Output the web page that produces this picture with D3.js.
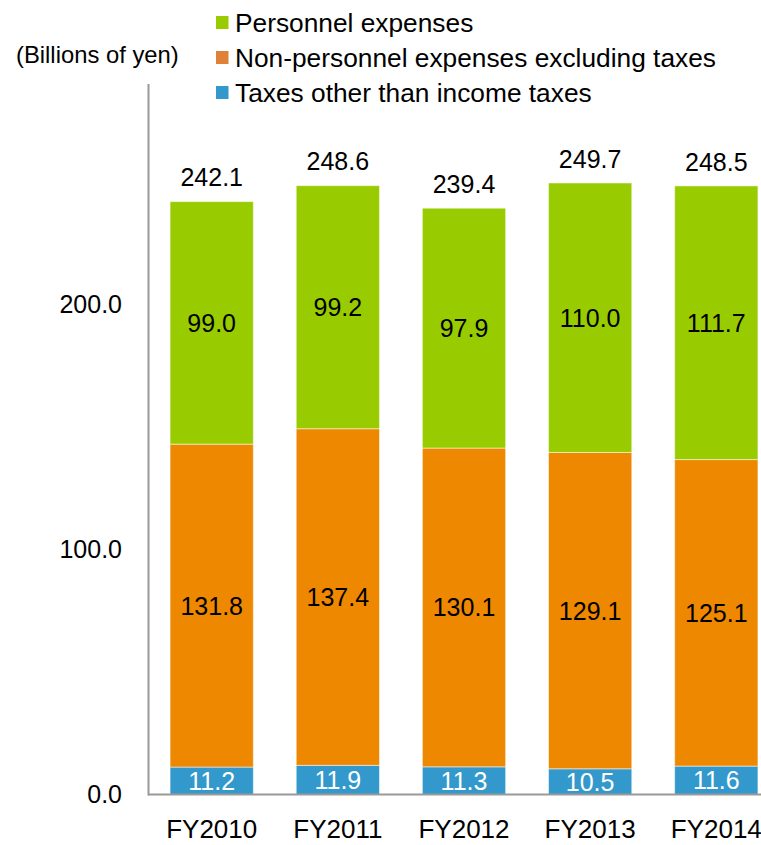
<!DOCTYPE html>
<html><head><meta charset="utf-8">
<script src="https://cdn.jsdelivr.net/npm/d3@7"></script>
<style>body{margin:0;background:#fff}svg{display:block;font-family:"Liberation Sans",Arial,sans-serif}</style>
</head><body><svg id="c" width="761" height="845"></svg>
<script>
const categories = ["FY2010","FY2011","FY2012","FY2013","FY2014"];
const taxes = [11.2, 11.9, 11.3, 10.5, 11.6];
const nonPersonnel = [131.8, 137.4, 130.1, 129.1, 125.1];
const personnel = [99.0, 99.2, 97.9, 110.0, 111.7];
const totals = [242.1, 248.6, 239.4, 249.7, 248.5];
const yTicks = [0, 100, 200];
const seriesNames = ["Personnel expenses","Non-personnel expenses excluding taxes","Taxes other than income taxes"];

const svg = d3.select("#c");
const x = d3.scaleBand().domain(categories).range([148, 780]).paddingInner(0.34).paddingOuter(0.175);
const y = d3.scaleLinear().domain([0, 290]).range([794.5, 84]);

const series = [
  {key:"taxes", vals:taxes, color:"#3399CC", label:"#fff"},
  {key:"non", vals:nonPersonnel, color:"#EE8800", label:"#000"},
  {key:"pers", vals:personnel, color:"#99CC00", label:"#000"}
];
const rows = categories.map((c,i)=>({cat:c, taxes:taxes[i], non:nonPersonnel[i], pers:personnel[i]}));
const stacked = d3.stack().keys(series.map(s=>s.key))(rows);

stacked.forEach((layer, li) => {
  const s = series[li];
  const g = svg.append("g");
  g.selectAll("rect").data(layer).join("rect")
    .attr("x", d=>x(d.data.cat)).attr("width", x.bandwidth())
    .attr("y", d=>y(d[1])).attr("height", d=>y(d[0])-y(d[1]))
    .attr("fill", s.color).attr("stroke","rgba(255,255,255,0.5)").attr("stroke-width",1);
  g.selectAll("text").data(layer).join("text")
    .attr("x", d=>x(d.data.cat)+x.bandwidth()/2)
    .attr("y", d=>(y(d[0])+y(d[1]))/2)
    .attr("dy","0.36em").attr("text-anchor","middle")
    .attr("font-size",25).attr("fill", s.label)
    .text(d=>(d[1]-d[0]).toFixed(1));
});

// totals
svg.append("g").selectAll("text").data(categories).join("text")
  .attr("x", c=>x(c)+x.bandwidth()/2).attr("y",(c,i)=>y(totals[i])-15)
  .attr("text-anchor","middle").attr("font-size",25).attr("fill","#000")
  .text((c,i)=>totals[i].toFixed(1));

// axes
svg.append("line").attr("x1",148.5).attr("x2",148.5).attr("y1",y(290)).attr("y2",y(0)+1)
  .attr("stroke","#999").attr("stroke-width",2);
svg.append("line").attr("x1",148).attr("x2",761).attr("y1",y(0)).attr("y2",y(0))
  .attr("stroke","#999").attr("stroke-width",2);

const yAxis = d3.axisLeft(y).tickValues(yTicks).tickFormat(d=>d.toFixed(1)).tickSize(0).tickPadding(26);
const ya = svg.append("g").attr("transform","translate(148,0)").call(yAxis);
ya.select(".domain").remove();
ya.selectAll("text").attr("font-size",25).attr("fill","#000").attr("font-family","Liberation Sans, Arial, sans-serif");

const xAxis = d3.axisBottom(x).tickSize(0).tickPadding(0);
const xa = svg.append("g").attr("transform","translate(0,838)").call(xAxis);
xa.select(".domain").remove();
xa.selectAll("text").attr("dy",0).attr("font-size",26).attr("fill","#000").attr("font-family","Liberation Sans, Arial, sans-serif");

// unit label
svg.append("text").attr("x",16).attr("y",63).attr("font-size",23.8).attr("fill","#000").text("(Billions of yen)");

// legend
const legColors = ["#99CC00","#E0813A","#3399CC"];
const leg = svg.append("g");
seriesNames.forEach((n,i)=>{
  const by = 32 + i*35;
  leg.append("rect").attr("x",216).attr("y",by-16).attr("width",12.5).attr("height",13).attr("fill",legColors[i]);
  leg.append("text").attr("x",235).attr("y",by).attr("font-size",26.3).attr("fill","#000").text(n);
});
</script></body></html>
